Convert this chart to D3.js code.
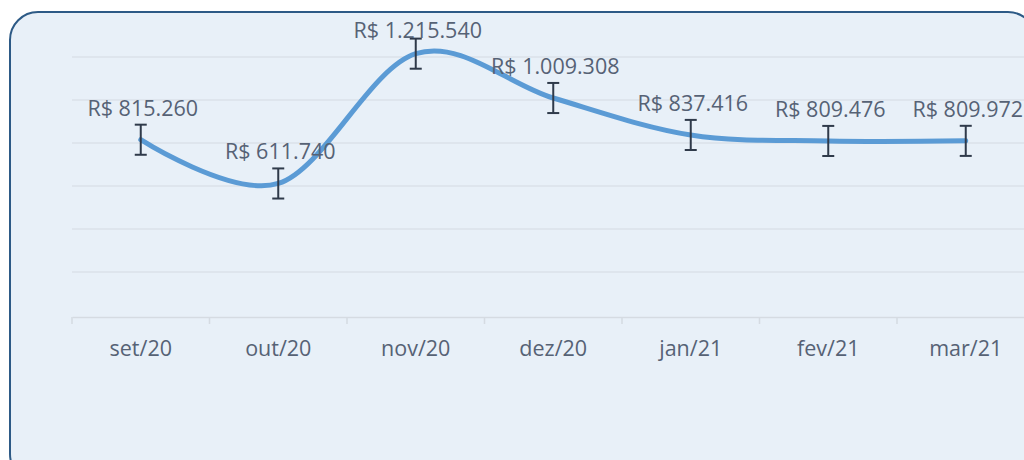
<!DOCTYPE html>
<html>
<head>
<meta charset="utf-8">
<script src="https://cdn.jsdelivr.net/npm/d3@7"></script>
<style>
  body { margin: 0; background: #fff; }
  svg { display: block; font-family: "Open Sans", sans-serif; }
</style>
</head>
<body>
<svg id="chart" width="1024" height="460"></svg>
<script>
var months = ["set/20", "out/20", "nov/20", "dez/20", "jan/21", "fev/21", "mar/21"];
var values = [815260, 611740, 1215540, 1009308, 837416, 809476, 809972];
var errors = [70000, 70000, 70000, 70000, 70000, 70000, 70000];
var yTicks = [0, 200000, 400000, 600000, 800000, 1000000, 1200000];

var svg = d3.select("#chart");

// chart area background + border
svg.append("rect")
    .attr("x", 10).attr("y", 12)
    .attr("width", 1026).attr("height", 470)
    .attr("rx", 28).attr("ry", 28)
    .attr("fill", "#e8f0f8")
    .attr("stroke", "#2d5a86")
    .attr("stroke-width", 2);

var x = d3.scaleBand().domain(months).range([72, 1034.5]);
var y = d3.scaleLinear().domain([0, 1200000]).range([315, 57]);

var fmt = function(v) {
  return "R$ " + d3.format(",")(v).replace(/,/g, ".");
};

// gridlines
svg.append("g")
  .selectAll("line")
  .data(yTicks.slice(1))
  .enter().append("line")
    .attr("x1", 72).attr("x2", 1024)
    .attr("y1", function(d) { return y(d); })
    .attr("y2", function(d) { return y(d); })
    .attr("stroke", "#dbe2ea")
    .attr("stroke-width", 1.5);

// x axis
var xAxis = svg.append("g")
    .attr("transform", "translate(0,317)")
    .call(d3.axisBottom(x).tickSize(0).tickPadding(24));
xAxis.select(".domain").attr("stroke", "#d5dbe2").attr("stroke-width", 1.5);
xAxis.selectAll("text")
    .attr("font-size", 21.5)
    .attr("fill", "#566275")
    .attr("font-family", "Open Sans, sans-serif");

// tick marks at band boundaries
svg.append("g")
  .selectAll("line")
  .data(months)
  .enter().append("line")
    .attr("x1", function(d) { return x(d); })
    .attr("x2", function(d) { return x(d); })
    .attr("y1", 317).attr("y2", 324)
    .attr("stroke", "#d5dbe2")
    .attr("stroke-width", 1.5);

var cx = function(i) { return x(months[i]) + x.bandwidth() / 2; };

// smoothed line
var line = d3.line()
    .x(function(d, i) { return cx(i); })
    .y(function(d) { return y(d); })
    .curve(d3.curveCardinal.tension(0));

svg.append("path")
    .datum(values)
    .attr("d", line)
    .attr("fill", "none")
    .attr("stroke", "#5b9bd5")
    .attr("stroke-width", 5)
    .attr("stroke-linecap", "round");

// error bars
var eb = svg.append("g")
    .attr("stroke", "#2f3a4a")
    .attr("stroke-width", 2);

values.forEach(function(v, i) {
  var top = y(v + errors[i]), bot = y(v - errors[i]);
  eb.append("line").attr("x1", cx(i)).attr("x2", cx(i)).attr("y1", top).attr("y2", bot);
  eb.append("line").attr("x1", cx(i) - 6).attr("x2", cx(i) + 6).attr("y1", top).attr("y2", top);
  eb.append("line").attr("x1", cx(i) - 6).attr("x2", cx(i) + 6).attr("y1", bot).attr("y2", bot);
});

// data labels
svg.append("g")
  .selectAll("text")
  .data(values)
  .enter().append("text")
    .attr("x", function(d, i) { return cx(i) + 2; })
    .attr("y", function(d) { return Math.max(y(d) - 24, 38); })
    .attr("text-anchor", "middle")
    .attr("font-size", 21.5)
    .attr("fill", "#566275")
    .text(fmt);
</script>
</body>
</html>
